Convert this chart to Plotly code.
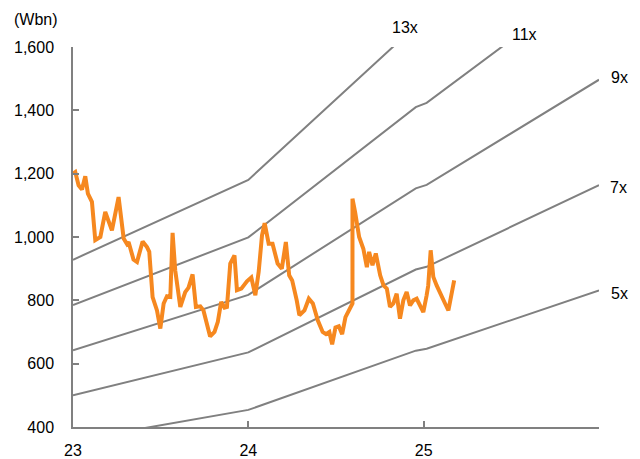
import plotly.graph_objects as go

# Price (market cap, Wbn); x in fractional years (23 = 2023)
price_x = [23.000, 23.013, 23.032, 23.051, 23.070, 23.085, 23.108, 23.127, 23.156, 23.184,
           23.222, 23.260, 23.289, 23.308, 23.317, 23.345, 23.365, 23.397, 23.422, 23.435,
           23.454, 23.479, 23.498, 23.517, 23.536, 23.555, 23.568, 23.583, 23.612, 23.640,
           23.659, 23.682, 23.701, 23.726, 23.744, 23.782, 23.807, 23.826, 23.845, 23.864,
           23.878, 23.897, 23.921, 23.935, 23.960, 23.992, 24.017, 24.040, 24.059, 24.078,
           24.093, 24.116, 24.138, 24.167, 24.191, 24.214, 24.233, 24.250, 24.276, 24.291,
           24.320, 24.345, 24.368, 24.396, 24.424, 24.443, 24.462, 24.478, 24.497, 24.516,
           24.535, 24.554, 24.594, 24.594, 24.609, 24.632, 24.656, 24.676, 24.689, 24.708,
           24.727, 24.752, 24.771, 24.790, 24.808, 24.827, 24.846, 24.865, 24.884, 24.903,
           24.922, 24.941, 24.960, 24.979, 24.998, 25.017, 25.026, 25.040, 25.055, 25.074,
           25.103, 25.122, 25.141, 25.160, 25.174]
price_y = [1200, 1205, 1163, 1150, 1192, 1137, 1111, 990, 1000, 1079,
           1021, 1126, 995, 978, 984, 929, 921, 986, 968, 953,
           810, 768, 711, 790, 813, 811, 1013, 895, 779, 826,
           840, 882, 779, 781, 768, 686, 700, 732, 795, 777,
           779, 916, 942, 832, 837, 860, 872, 816, 890, 1005,
           1044, 979, 979, 916, 900, 984, 879, 863, 800, 753,
           768, 805, 790, 737, 700, 693, 700, 661, 714, 718,
           693, 747, 790, 1121, 1079, 1000, 963, 905, 953, 911,
           948, 879, 847, 837, 779, 790, 821, 742, 800, 826,
           784, 800, 805, 784, 763, 816, 847, 958, 874, 847,
           816, 790, 768, 816, 863]

# Forward EPS path behind the PER bands
eps_x = [23.0, 24.0, 24.955, 25.017, 26.0]
eps_y = [71.4, 90.8, 128.2, 129.4, 166.3]

multiples = [5, 7, 9, 11, 13]
band_labels = ["5x", "7x", "9x", "11x", "13x"]

y_ticks = [400, 600, 800, 1000, 1200, 1400, 1600]
x_ticks = [23, 24, 25, 26]
x_ticktext = ["23", "24", "25", ""]

FONT = "Liberation Sans, Arial, sans-serif"
GRAY = "#808080"
ORANGE = "#F6881F"

W, H = 640, 459
L, R, T, B = 73, 41, 47, 32
PW, PH = W - L - R, H - T - B


def px(x):  # pixel -> paper x
    return (x - L) / PW


def py(y):  # pixel -> paper y
    return (H - B - y) / PH


# label centres in pixels (layout only)
label_pos = {"13x": (405, 28), "11x": (524, 35), "9x": (619, 77), "7x": (618, 187), "5x": (619, 293)}

fig = go.Figure()
for m in multiples:
    fig.add_trace(go.Scatter(x=eps_x, y=[m * e for e in eps_y], mode="lines",
                             line=dict(color=GRAY, width=2), hoverinfo="skip",
                             showlegend=False))
fig.add_trace(go.Scatter(x=price_x, y=price_y, mode="lines",
                         line=dict(color=ORANGE, width=4), showlegend=False))

for t in band_labels:
    cx, cy = label_pos[t]
    fig.add_annotation(x=px(cx), y=py(cy), xref="paper", yref="paper", text=t,
                       showarrow=False, font=dict(family=FONT, size=16, color="#000000"),
                       xanchor="center", yanchor="middle")

fig.add_annotation(x=px(12), y=py(20), xref="paper", yref="paper", text="(Wbn)",
                   showarrow=False, font=dict(family=FONT, size=16, color="#000000"),
                   xanchor="left", yanchor="middle")

fig.update_layout(
    width=W, height=H,
    margin=dict(l=L, r=R, t=T, b=B, autoexpand=False),
    paper_bgcolor="white", plot_bgcolor="white",
    font=dict(family=FONT, size=16, color="#000000"),
    xaxis=dict(range=[23, 26], tickmode="array", tickvals=x_ticks, ticktext=x_ticktext,
               showgrid=False, zeroline=False, showline=True, linecolor=GRAY, linewidth=1.5,
               ticks="inside", ticklen=6, tickwidth=1.5, tickcolor=GRAY,
               ticklabelstandoff=8, automargin=False),
    yaxis=dict(range=[400, 1600], tickmode="array", tickvals=y_ticks,
               tickformat=",d", showgrid=False, zeroline=False, showline=True,
               linecolor=GRAY, linewidth=1.5, ticks="inside", ticklen=6, tickwidth=1.5,
               tickcolor=GRAY, ticklabelstandoff=14, automargin=False),
)

fig.write_html("out.html", config={"displayModeBar": False},
               post_script="document.body.style.margin='0';")
